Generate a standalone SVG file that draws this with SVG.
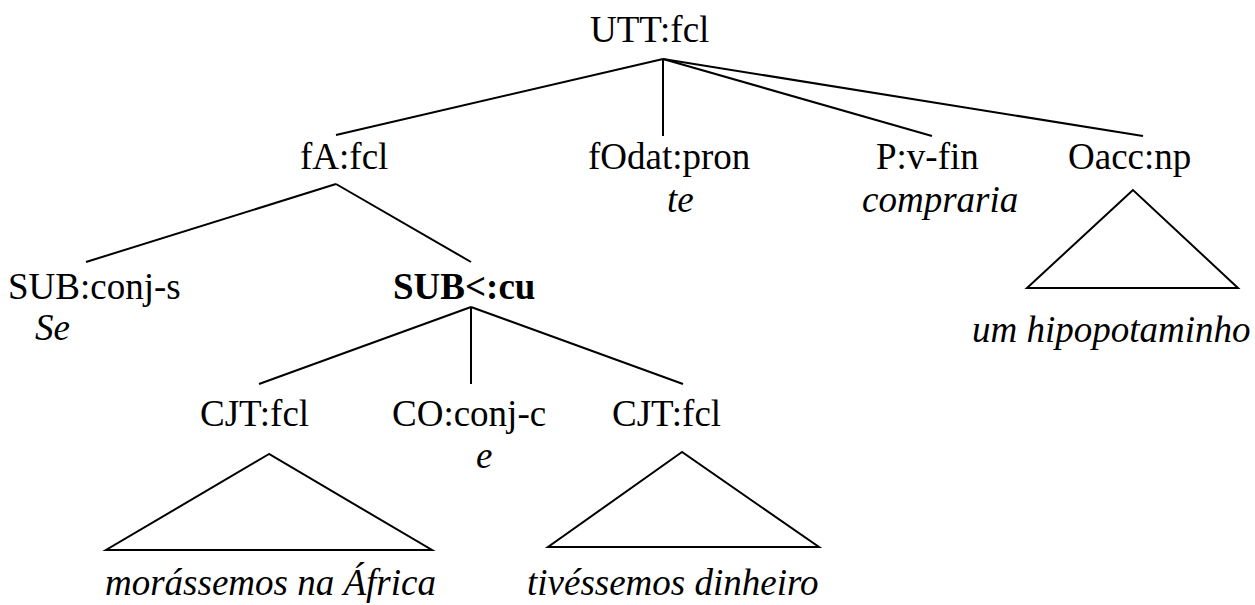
<svg xmlns="http://www.w3.org/2000/svg" width="1255" height="605" viewBox="0 0 1255 605">
<style>
text{font-family:'Liberation Serif','Times New Roman',Times,'DejaVu Serif',serif;font-size:37px;fill:#000}
.w{font-style:italic}
.b{font-weight:bold}
line,polygon{stroke:#000;stroke-width:2;fill:none}
</style>
<rect width="1255" height="605" fill="#fff"/>
<g id="connectors">
<line x1="663" y1="59" x2="336" y2="135"/>
<line x1="663" y1="59" x2="663" y2="136"/>
<line x1="663" y1="59" x2="932" y2="136"/>
<line x1="663" y1="59" x2="1143" y2="136"/>
<line x1="336" y1="184" x2="86" y2="262"/>
<line x1="336" y1="184" x2="471" y2="262"/>
<line x1="471" y1="307" x2="259" y2="384"/>
<line x1="471" y1="307" x2="471" y2="384"/>
<line x1="471" y1="307" x2="683" y2="384"/>
</g>
<g id="n-utt"><text x="590" y="42" font-family="Liberation Serif, serif">UTT:fcl</text></g>
<g id="n-fa"><text x="300" y="169">fA:fcl</text></g>
<g id="n-fodat"><text x="588" y="169">fOdat:pron</text><text class="w" x="667" y="212">te</text></g>
<g id="n-p"><text x="876" y="169">P:v-fin</text><text class="w" x="862" y="212">compraria</text></g>
<g id="n-oacc"><text x="1068" y="169">Oacc:np</text><polygon points="1133,190 1027,288 1238,288"/><text class="w" x="972" y="342">um hipopotaminho</text></g>
<g id="n-sub"><text x="8" y="299">SUB:conj-s</text><text class="w" x="35" y="340">Se</text></g>
<g id="n-subcu"><text class="b" x="393" y="299">SUB&lt;:cu</text></g>
<g id="n-cjt1"><text x="200" y="426">CJT:fcl</text><polygon points="269,454 106,550 432,550"/><text class="w" x="105" y="595">morássemos na África</text></g>
<g id="n-co"><text x="392" y="426">CO:conj-c</text><text class="w" x="476" y="468">e</text></g>
<g id="n-cjt2"><text x="612" y="426">CJT:fcl</text><polygon points="682,452 548,547 819,547"/><text class="w" x="527" y="595">tivéssemos dinheiro</text></g>
</svg>
